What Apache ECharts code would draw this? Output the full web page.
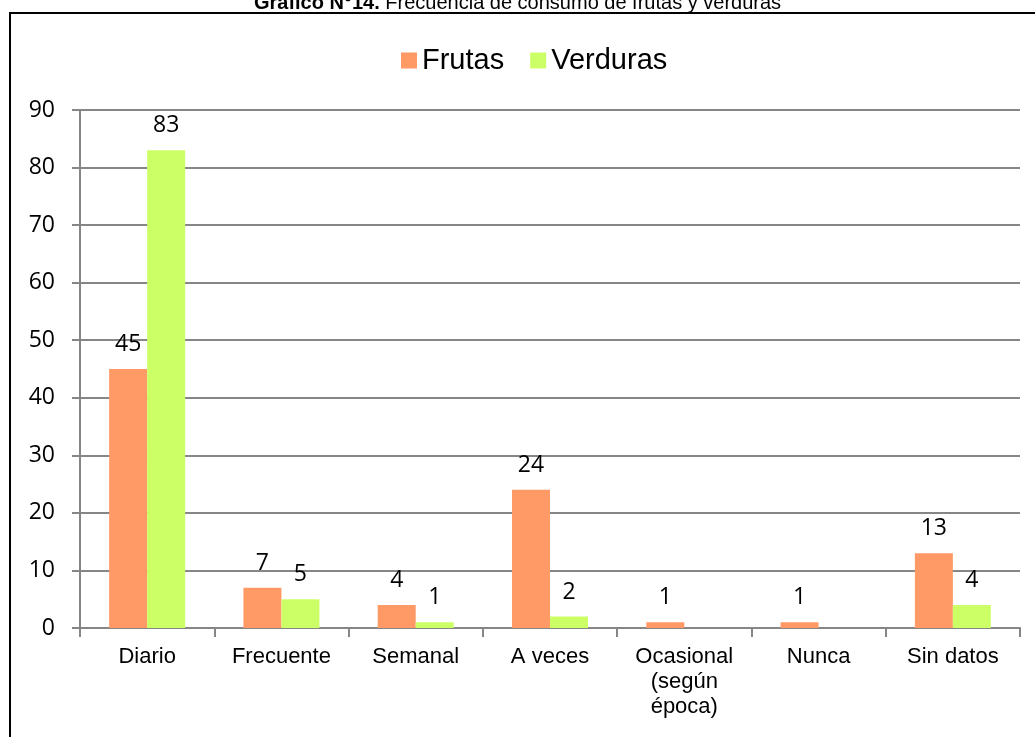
<!DOCTYPE html>
<html>
<head>
<meta charset="utf-8">
<title>Gráfico N°14</title>
<script src="https://cdn.jsdelivr.net/npm/echarts@6/dist/echarts.min.js"></script>
</head>
<body style="margin:0">
	<div id="main" style="width: 1035px; height: 737px;"></div>

	<script type="text/javascript">
		var categories = ['Diario', 'Frecuente', 'Semanal', 'A veces', 'Ocasional\n(según\népoca)', 'Nunca', 'Sin datos'];
		var frutas = [45, 7, 4, 24, 1, 1, 13];
		var verduras = [83, 5, 1, 2, null, null, 4];
		var yTicks = [0, 10, 20, 30, 40, 50, 60, 70, 80, 90];

		var myChart = echarts.init(document.getElementById('main'));

		var labelStyle = {
			show: true,
			position: 'top',
			distance: 13,
			color: '#000',
			fontFamily: 'Open Sans',
			fontSize: 23
		};

		option = {
			animation: false,
			backgroundColor: '#fff',
			title: {
				text: '{b|Gráfico N°14.} Frecuencia de consumo de frutas y verduras',
				left: 'center',
				top: -12,
				textStyle: {
					fontFamily: 'Liberation Sans',
					fontSize: 20,
					fontWeight: 'normal',
					color: '#000',
					rich: { b: { fontFamily: 'Liberation Sans', fontSize: 20, fontWeight: 'bold' } }
				}
			},
			graphic: [
				{ type: 'line', shape: { x1: 9, y1: 13, x2: 1035, y2: 13 }, style: { stroke: '#000', lineWidth: 2 } },
				{ type: 'line', shape: { x1: 10, y1: 13, x2: 10, y2: 737 }, style: { stroke: '#000', lineWidth: 2 } }
			],
			legend: {
				left: 396,
				top: 41,
				itemWidth: 16,
				itemHeight: 16,
				itemGap: 26,
				icon: 'rect',
				textStyle: { fontFamily: 'Liberation Sans', fontSize: 29, color: '#000' },
				data: ['Frutas', 'Verduras']
			},
			grid: { left: 80, right: 15, top: 110, bottom: 109, containLabel: false },
			xAxis: {
				type: 'category',
				data: categories,
				axisLine: { lineStyle: { color: '#868686', width: 2 } },
				axisTick: { show: true, length: 9, lineStyle: { color: '#868686', width: 2 } },
				axisLabel: {
					color: '#000',
					fontFamily: 'Liberation Sans',
					fontSize: 22,
					margin: 16,
					lineHeight: 25,
					interval: 0
				}
			},
			yAxis: {
				type: 'value',
				min: 0,
				max: 90,
				interval: 10,
				axisLine: { show: true, lineStyle: { color: '#868686', width: 2 } },
				axisTick: { show: true, length: 8, lineStyle: { color: '#868686', width: 2 } },
				splitLine: { lineStyle: { color: '#868686', width: 2 } },
				axisLabel: {
					color: '#000',
					fontFamily: 'Open Sans',
					fontSize: 23,
					margin: 25,
					formatter: function (v) { return yTicks.indexOf(v) >= 0 ? String(v) : ''; }
				}
			},
			series: [
				{
					name: 'Frutas',
					type: 'bar',
					data: frutas,
					barWidth: 38,
					barGap: '0%',
					itemStyle: { color: '#FF9966' },
					label: labelStyle
				},
				{
					name: 'Verduras',
					type: 'bar',
					data: verduras,
					barWidth: 38,
					itemStyle: { color: '#CCFF66' },
					label: labelStyle
				}
			]
		};

		myChart.setOption(option);
	</script>
</body>
</html>
